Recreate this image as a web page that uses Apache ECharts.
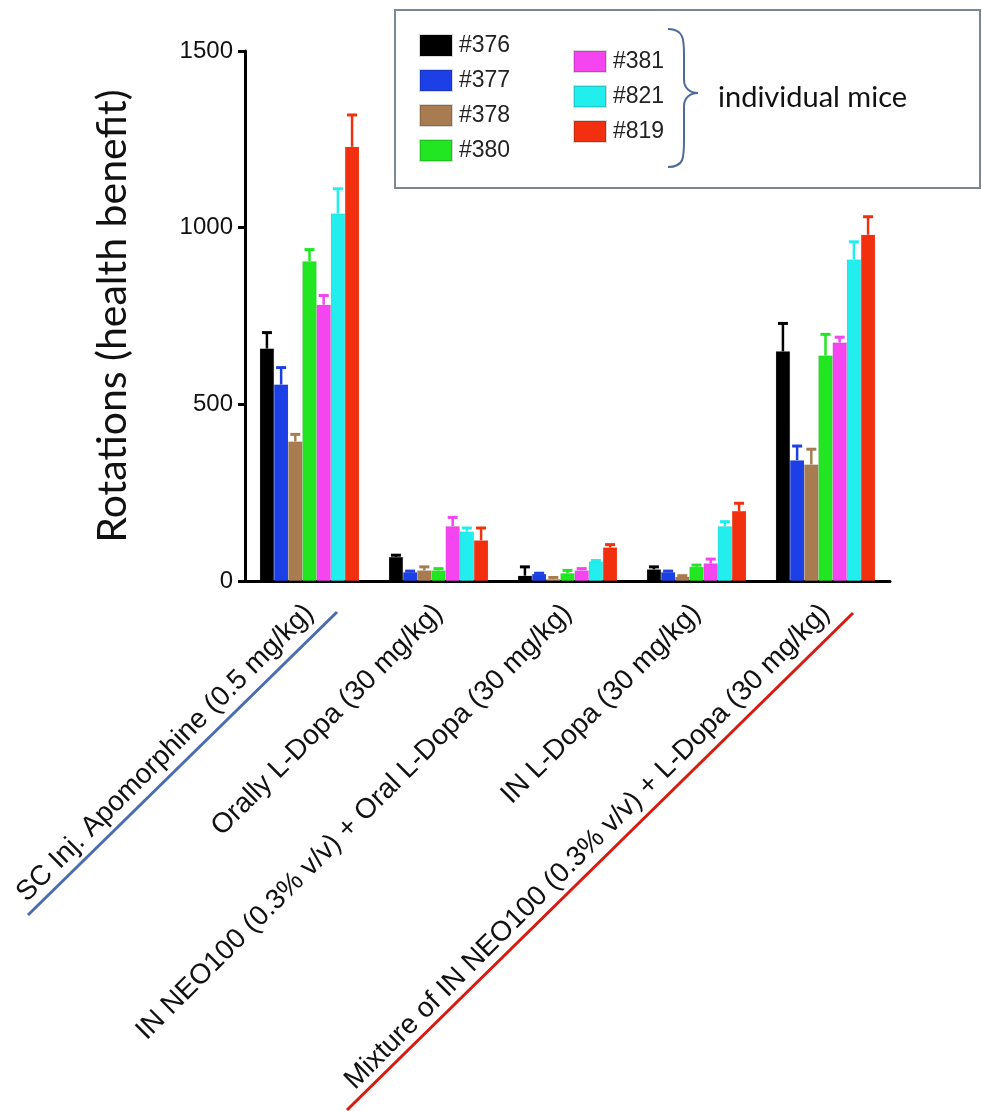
<!DOCTYPE html>
<html>
<head>
<meta charset="utf-8">
<script src="https://cdn.jsdelivr.net/npm/echarts@6/dist/echarts.min.js"></script>
<style>
html,body{margin:0;padding:0;background:#fff;}
#chart{width:982px;height:1111px;}
</style>
</head>
<body>
<div id="chart"></div>
<script>
const categories = [
  'SC Inj. Apomorphine (0.5 mg/kg)',
  'Orally L-Dopa (30 mg/kg)',
  'IN NEO100 (0.3% v/v) + Oral L-Dopa (30 mg/kg)',
  'IN L-Dopa (30 mg/kg)',
  'Mixture of IN NEO100 (0.3% v/v) + L-Dopa (30 mg/kg)'
];
const mice = ['#376', '#377', '#378', '#380', '#381', '#821', '#819'];
const colors = ['#000000', '#1c40e6', '#a87c50', '#22e622', '#f545f0', '#22eeee', '#f2300f'];
const yTicks = [0, 500, 1000, 1500];

const v376 = [658, 68, 15, 33, 650];
const v377 = [556, 25, 20, 25, 342];
const v378 = [395, 30, 5, 12, 330];
const v380 = [905, 30, 22, 40, 638];
const v381 = [782, 155, 30, 50, 675];
const v821 = [1040, 140, 55, 155, 910];
const v819 = [1229, 115, 95, 198, 980];

const e376 = [45, 5, 25, 7, 79];
const e377 = [48, 3, 2, 3, 40];
const e378 = [20, 10, 5, 3, 43];
const e380 = [33, 5, 8, 5, 60];
const e381 = [26, 25, 5, 12, 15];
const e821 = [70, 10, 3, 13, 50];
const e819 = [90, 35, 8, 22, 51];

const values = [v376, v377, v378, v380, v381, v821, v819];
const errors = [e376, e377, e378, e380, e381, e821, e819];

const catGap = 0.23;
const nS = mice.length;

const barSeries = mice.map((m, i) => ({
  name: m,
  type: 'bar',
  data: values[i],
  barGap: '0%',
  barCategoryGap: (catGap * 100) + '%',
  itemStyle: { color: colors[i], borderColor: 'rgba(0,0,0,0.15)', borderWidth: 0.5 },
  z: 2
}));

const errSeries = mice.map((m, i) => ({
  type: 'custom',
  data: values[i].map((v, k) => [k, v, errors[i][k]]),
  z: 3,
  silent: true,
  renderItem: function (params, api) {
    const ci = api.value(0), v = api.value(1), e = api.value(2);
    const band = api.size([1, 0])[0];
    const bw = band * (1 - catGap) / nS;
    const cx = api.coord([ci, 0])[0] + (i - (nS - 1) / 2) * bw;
    const y1 = api.coord([ci, v])[1];
    const y2 = api.coord([ci, v + e])[1];
    return {
      type: 'group',
      children: [
        { type: 'line', shape: { x1: cx, y1: y1, x2: cx, y2: y2 }, style: { stroke: colors[i], lineWidth: 2.5 } },
        { type: 'line', shape: { x1: cx - 5, y1: y2, x2: cx + 5, y2: y2 }, style: { stroke: colors[i], lineWidth: 3 } }
      ]
    };
  }
}));

const braceStyle = { fill: 'none', stroke: '#4d6b9a', lineWidth: 2 };
const brace = [
  { type: 'bezierCurve', shape: { x1: 668, y1: 29, cpx1: 684, cpy1: 29, cpx2: 684, cpy2: 40, x2: 684, y2: 55 }, style: braceStyle },
  { type: 'line', shape: { x1: 684, y1: 55, x2: 684, y2: 80 }, style: braceStyle },
  { type: 'bezierCurve', shape: { x1: 684, y1: 80, cpx1: 684, cpy1: 88, cpx2: 690, cpy2: 93, x2: 698, y2: 93 }, style: braceStyle },
  { type: 'bezierCurve', shape: { x1: 698, y1: 93, cpx1: 690, cpy1: 93, cpx2: 684, cpy2: 98, x2: 684, y2: 106 }, style: braceStyle },
  { type: 'line', shape: { x1: 684, y1: 106, x2: 684, y2: 140 }, style: braceStyle },
  { type: 'bezierCurve', shape: { x1: 684, y1: 140, cpx1: 684, cpy1: 158, cpx2: 684, cpy2: 167, x2: 668, y2: 167 }, style: braceStyle }
];

const legendText = { fontSize: 23, color: '#222', fontFamily: 'Liberation Sans', padding: [0, 0, 0, 2] };

const chart = echarts.init(document.getElementById('chart'));
chart.setOption({
  animation: false,
  backgroundColor: '#fff',
  grid: { left: 245, right: 92, top: 51, bottom: 530, containLabel: false },
  legend: [
    {
      data: mice.slice(0, 4), orient: 'vertical', left: 414, top: 29,
      itemWidth: 32, itemHeight: 21, itemGap: 12, icon: 'rect',
      textStyle: legendText
    },
    {
      data: mice.slice(4), orient: 'vertical', left: 568, top: 45,
      itemWidth: 32, itemHeight: 21, itemGap: 12, icon: 'rect',
      textStyle: legendText
    }
  ],
  xAxis: {
    type: 'category',
    data: categories,
    axisLine: { lineStyle: { color: '#000', width: 3 } },
    axisTick: { alignWithLabel: true, interval: 0, length: 8, lineStyle: { color: '#000', width: 3 } },
    axisLabel: {
      interval: 0, rotate: 45, fontSize: 28, color: '#111',
      fontFamily: 'Liberation Sans', margin: 28
    }
  },
  yAxis: {
    type: 'value', min: 0, max: 1500, interval: 500,
    name: 'Rotations (health benefit)',
    nameLocation: 'middle', nameGap: 112, nameRotate: 90,
    nameTextStyle: { fontSize: 41, color: '#111', fontFamily: 'Lato' },
    axisLine: { show: true, lineStyle: { color: '#000', width: 3 } },
    axisTick: { show: true, length: 7, lineStyle: { color: '#000', width: 3 } },
    axisLabel: {
      fontSize: 24, color: '#111', fontFamily: 'Liberation Sans', margin: 12,
      formatter: function (val) { return yTicks.indexOf(val) >= 0 ? String(val) : ''; }
    },
    splitLine: { show: false }
  },
  series: barSeries.concat(errSeries),
  graphic: [
    { type: 'rect', shape: { x: 395, y: 10, width: 585, height: 178 },
      style: { fill: 'none', stroke: '#7d8790', lineWidth: 2 }, z: 0 }
  ].concat(brace).concat([
    { type: 'text', left: 718, top: 83,
      style: { text: 'individual mice', fontSize: 29, fill: '#111', fontFamily: 'Lato' } },
    { type: 'line', shape: { x1: 28, y1: 915, x2: 337, y2: 612 },
      style: { stroke: '#4a6cb0', lineWidth: 3 } },
    { type: 'line', shape: { x1: 347, y1: 1110, x2: 853, y2: 613 },
      style: { stroke: '#d81a10', lineWidth: 3 } }
  ])
});
</script>
</body>
</html>
